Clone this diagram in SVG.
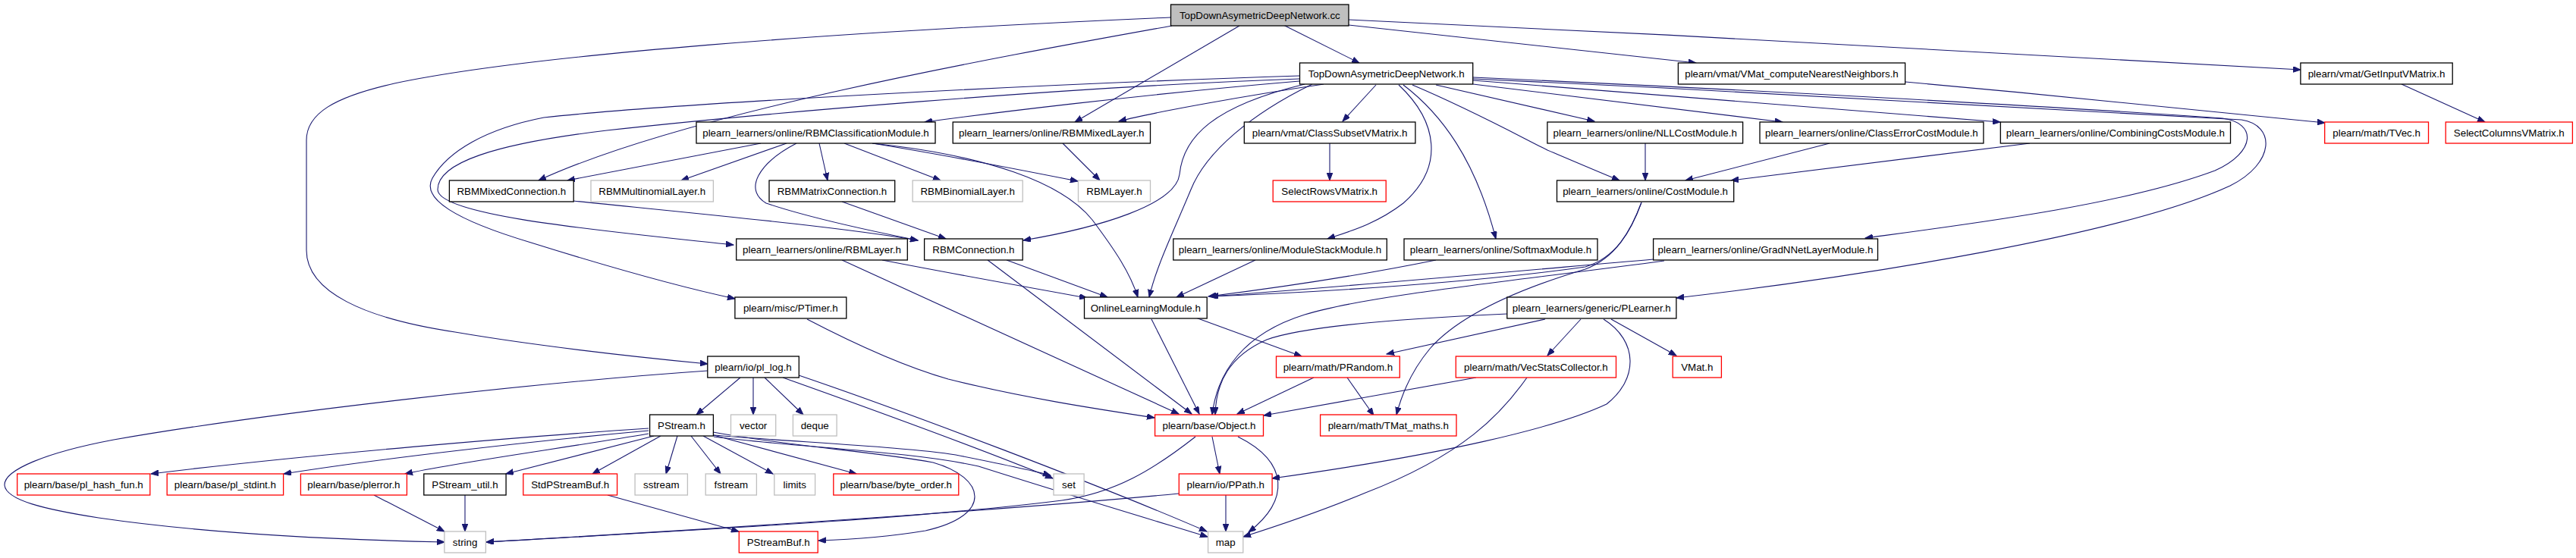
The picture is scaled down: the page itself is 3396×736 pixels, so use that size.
<svg xmlns="http://www.w3.org/2000/svg" width="3396" height="736" viewBox="0 0 3396 736">
<defs>
<marker id="ah" markerUnits="userSpaceOnUse" markerWidth="11" markerHeight="8" refX="10" refY="3.8" orient="auto">
<path d="M0,0 L10,3.8 L0,7.6 z" fill="#191970" stroke="#191970" stroke-width="1"/>
</marker>
</defs>
<style>
rect{stroke-width:1.3}
.b{fill:#ffffff;stroke:#000000}
.r{fill:#ffffff;stroke:#ff0000}
.g{fill:#ffffff;stroke:#bfbfbf}
.root{fill:#bfbfbf;stroke:#000000}
text{font-family:"Liberation Sans",Arial,Helvetica,sans-serif;font-size:13.33px;fill:#000000;text-anchor:middle}
#edges path{fill:none;stroke:#191970;stroke-width:1.1;marker-end:url(#ah)}
</style>
<rect x="0" y="0" width="3396" height="736" fill="#ffffff"/>
<g id="edges">
<path d="M1692,33 L1792,83"/>
<path d="M1778,33 L2236,83"/>
<path d="M1778,26 C2200,45 2700,72 3033,92"/>
<path d="M1634,34 L1417,161"/>
<path d="M1545,34 C1300,78 900,150 710,238"/>
<path d="M1543,23 C1100,42 700,72 520,110 C440,128 404,150 404,185 L404,330 C404,385 480,420 600,438 C700,455 830,470 933,480"/>
<path d="M1713,100 C1400,110 900,135 717,155 C640,170 590,200 570,235 C555,262 600,290 700,320 C780,345 880,375 969,394"/>
<path d="M1713,104 C1400,115 1000,150 800,172 C650,190 577,215 577,250 C577,285 800,305 967,323"/>
<path d="M1713,107 C1500,125 1300,150 1219,161"/>
<path d="M1745,111 C1650,125 1520,148 1475,160"/>
<path d="M1720,111 C1600,140 1560,180 1555,230 C1550,270 1450,300 1349,317"/>
<path d="M1730,111 C1650,150 1590,200 1570,250 C1545,310 1525,350 1515,392"/>
<path d="M1814,112 L1770,160"/>
<path d="M1893,112 L2102,160"/>
<path d="M1942,111 L2350,161"/>
<path d="M1942,106 L2637,161"/>
<path d="M1862,112 C1940,145 2000,178 2040,198 C2080,215 2115,230 2135,238"/>
<path d="M1844,112 C1895,160 1905,220 1850,268 C1815,295 1780,305 1750,315"/>
<path d="M1850,112 C1900,150 1945,210 1972,315"/>
<path d="M1942,102 C2300,118 2700,140 2930,156 C2975,162 2975,200 2920,225 C2800,270 2600,295 2459,314"/>
<path d="M1942,104 C2300,120 2700,143 2955,158 C3000,165 3000,215 2940,245 C2800,310 2450,365 2210,393"/>
<path d="M2512,108 C2700,125 2900,145 3065,162"/>
<path d="M1003,189 L748,238"/>
<path d="M1037,189 L898,238"/>
<path d="M1080,189 L1091,238"/>
<path d="M1113,189 L1240,238"/>
<path d="M1150,189 C1250,205 1350,225 1421,239"/>
<path d="M1050,189 C1000,215 980,250 1010,268 C1060,285 1150,305 1210,317"/>
<path d="M1150,189 C1300,205 1400,240 1440,290 C1470,330 1490,360 1500,392"/>
<path d="M1401,189 L1450,238"/>
<path d="M1753,189 L1753,238"/>
<path d="M2169,189 L2169,238"/>
<path d="M2412,189 L2222,238"/>
<path d="M2676,189 L2282,238"/>
<path d="M3166,111 L3276,161"/>
<path d="M756,265 C900,280 1100,298 1210,317"/>
<path d="M1110,266 L1247,315"/>
<path d="M1163,343 C1250,360 1350,378 1433,393"/>
<path d="M1110,343 L1554,546"/>
<path d="M1327,343 L1460,392"/>
<path d="M1302,343 L1571,546"/>
<path d="M1655,343 L1551,392"/>
<path d="M1893,343 C1800,362 1680,380 1593,391"/>
<path d="M2180,342 C1950,362 1750,380 1596,391"/>
<path d="M2164,267 C2150,305 2130,340 2090,352 C1950,372 1750,385 1596,391"/>
<path d="M2164,267 C2150,305 2130,340 2090,355 C1990,385 1920,420 1885,460 C1860,490 1848,520 1841,547"/>
<path d="M2194,344 C2000,370 1800,390 1720,415 C1640,440 1605,490 1598,547"/>
<path d="M1064,421 C1110,445 1180,480 1250,500 C1350,525 1450,540 1522,551"/>
<path d="M1518,421 L1581,546"/>
<path d="M1560,413 L1716,470"/>
<path d="M1987,414 C1850,420 1720,430 1670,448 C1620,470 1603,505 1602,547"/>
<path d="M2037,421 L1828,467"/>
<path d="M2084,421 L2040,469"/>
<path d="M2124,421 L2210,469"/>
<path d="M2114,421 C2160,450 2160,500 2118,533 C2050,565 1900,600 1677,631"/>
<path d="M976,498 L918,547"/>
<path d="M993,498 L993,547"/>
<path d="M1008,498 L1059,547"/>
<path d="M1032,498 C1150,540 1300,595 1388,631"/>
<path d="M1053,495 C1200,545 1450,640 1591,701"/>
<path d="M933,489 C700,505 350,545 150,580 C60,597 5,620 6,640 C8,660 60,672 130,683 C280,705 450,712 586,715"/>
<path d="M1946,498 L1666,548"/>
<path d="M2013,498 C1980,545 1930,600 1800,650 C1740,675 1680,695 1639,708"/>
<path d="M1732,498 L1631,546"/>
<path d="M1776,498 L1811,548"/>
<path d="M1598,576 L1608,625"/>
<path d="M1632,576 C1700,610 1700,660 1646,702"/>
<path d="M1576,576 C1520,620 1470,650 1400,660 C1200,685 900,700 641,715"/>
<path d="M1554,651 C1300,675 900,700 641,715"/>
<path d="M1616,653 L1616,701"/>
<path d="M855,565 C700,575 400,600 199,625"/>
<path d="M855,568 C700,582 500,605 374,625"/>
<path d="M855,572 C750,590 600,610 534,625"/>
<path d="M862,575 L667,625"/>
<path d="M871,575 L781,625"/>
<path d="M893,575 L878,625"/>
<path d="M911,575 L950,625"/>
<path d="M927,575 L1019,625"/>
<path d="M941,574 L1129,625"/>
<path d="M941,574 C1050,583 1200,590 1260,600 C1320,612 1360,620 1385,627"/>
<path d="M941,576 C1050,590 1200,595 1290,615 C1400,650 1500,680 1592,708"/>
<path d="M940,570 C1050,590 1150,595 1230,610 C1300,630 1310,680 1220,700 C1160,710 1110,712 1079,713"/>
<path d="M493,653 L586,701"/>
<path d="M613,653 L613,701"/>
<path d="M801,653 L974,701"/>
</g>
<g id="n0"><rect class="root" x="1543.5" y="6" width="234.5" height="28"/><text x="1660.8" y="25">TopDownAsymetricDeepNetwork.cc</text></g>
<g id="n1"><rect class="b" x="1713.5" y="83" width="228.2" height="28"/><text x="1827.6" y="102">TopDownAsymetricDeepNetwork.h</text></g>
<g id="n2"><rect class="b" x="2212.4" y="83" width="299.2" height="28"/><text x="2362" y="102">plearn/vmat/VMat_computeNearestNeighbors.h</text></g>
<g id="n3"><rect class="b" x="3032.9" y="83" width="200.3" height="28"/><text x="3133" y="102">plearn/vmat/GetInputVMatrix.h</text></g>
<g id="n4"><rect class="b" x="918" y="161" width="315" height="28"/><text x="1075.5" y="180">plearn_learners/online/RBMClassificationModule.h</text></g>
<g id="n5"><rect class="b" x="1256.2" y="161" width="260.3" height="28"/><text x="1386.3" y="180">plearn_learners/online/RBMMixedLayer.h</text></g>
<g id="n6"><rect class="b" x="1640.3" y="161" width="225.6" height="28"/><text x="1753.1" y="180">plearn/vmat/ClassSubsetVMatrix.h</text></g>
<g id="n7"><rect class="b" x="2039.9" y="161" width="257.7" height="28"/><text x="2168.7" y="180">plearn_learners/online/NLLCostModule.h</text></g>
<g id="n8"><rect class="b" x="2320" y="161" width="294.9" height="28"/><text x="2467.4" y="180">plearn_learners/online/ClassErrorCostModule.h</text></g>
<g id="n9"><rect class="b" x="2637.3" y="161" width="303.2" height="28"/><text x="2788.9" y="180">plearn_learners/online/CombiningCostsModule.h</text></g>
<g id="n10"><rect class="r" x="3064.7" y="161" width="136.8" height="28"/><text x="3133.1" y="180">plearn/math/TVec.h</text></g>
<g id="n11"><rect class="r" x="3224.2" y="161" width="167.2" height="28"/><text x="3307.8" y="180">SelectColumnsVMatrix.h</text></g>
<g id="n12"><rect class="b" x="592.4" y="238" width="163.8" height="28"/><text x="674.3" y="257">RBMMixedConnection.h</text></g>
<g id="n13"><rect class="g" x="779" y="238" width="161.4" height="28"/><text x="859.7" y="257">RBMMultinomialLayer.h</text></g>
<g id="n14"><rect class="b" x="1014" y="238" width="165.7" height="28"/><text x="1096.9" y="257">RBMMatrixConnection.h</text></g>
<g id="n15"><rect class="g" x="1203.1" y="238" width="145.1" height="28"/><text x="1275.7" y="257">RBMBinomialLayer.h</text></g>
<g id="n16"><rect class="g" x="1421.5" y="238" width="95" height="28"/><text x="1469" y="257">RBMLayer.h</text></g>
<g id="n17"><rect class="r" x="1678.2" y="238" width="149" height="28"/><text x="1752.7" y="257">SelectRowsVMatrix.h</text></g>
<g id="n18"><rect class="b" x="2052.5" y="238" width="233.2" height="28"/><text x="2169.1" y="257">plearn_learners/online/CostModule.h</text></g>
<g id="n19"><rect class="b" x="970.7" y="315" width="225.6" height="28"/><text x="1083.5" y="334">plearn_learners/online/RBMLayer.h</text></g>
<g id="n20"><rect class="b" x="1218.6" y="315" width="129.6" height="28"/><text x="1283.4" y="334">RBMConnection.h</text></g>
<g id="n21"><rect class="b" x="1546.8" y="315" width="281.5" height="28"/><text x="1687.5" y="334">plearn_learners/online/ModuleStackModule.h</text></g>
<g id="n22"><rect class="b" x="1851" y="315" width="255" height="28"/><text x="1978.5" y="334">plearn_learners/online/SoftmaxModule.h</text></g>
<g id="n23"><rect class="b" x="2179.6" y="315" width="295.9" height="28"/><text x="2327.5" y="334">plearn_learners/online/GradNNetLayerModule.h</text></g>
<g id="n24"><rect class="b" x="968.9" y="392" width="146.9" height="28"/><text x="1042.3" y="411">plearn/misc/PTimer.h</text></g>
<g id="n25"><rect class="b" x="1429.5" y="392" width="161.7" height="28"/><text x="1510.3" y="411">OnlineLearningModule.h</text></g>
<g id="n26"><rect class="b" x="1986.8" y="392" width="223.1" height="28"/><text x="2098.3" y="411">plearn_learners/generic/PLearner.h</text></g>
<g id="n27"><rect class="b" x="932.8" y="470" width="120.5" height="28"/><text x="993" y="489">plearn/io/pl_log.h</text></g>
<g id="n28"><rect class="r" x="1682.5" y="470" width="162.8" height="28"/><text x="1763.9" y="489">plearn/math/PRandom.h</text></g>
<g id="n29"><rect class="r" x="1919.3" y="470" width="211.2" height="28"/><text x="2024.9" y="489">plearn/math/VecStatsCollector.h</text></g>
<g id="n30"><rect class="r" x="2205.2" y="470" width="64.2" height="28"/><text x="2237.3" y="489">VMat.h</text></g>
<g id="n31"><rect class="b" x="856.6" y="547" width="83.8" height="28"/><text x="898.5" y="566">PStream.h</text></g>
<g id="n32"><rect class="g" x="963.5" y="547" width="59.2" height="28"/><text x="993.1" y="566">vector</text></g>
<g id="n33"><rect class="g" x="1045.4" y="547" width="57.7" height="28"/><text x="1074.2" y="566">deque</text></g>
<g id="n34"><rect class="r" x="1522.6" y="547" width="142.9" height="28"/><text x="1594" y="566">plearn/base/Object.h</text></g>
<g id="n35"><rect class="r" x="1740.6" y="547" width="179.4" height="28"/><text x="1830.3" y="566">plearn/math/TMat_maths.h</text></g>
<g id="n36"><rect class="r" x="22.7" y="625" width="175.1" height="28"/><text x="110.2" y="644">plearn/base/pl_hash_fun.h</text></g>
<g id="n37"><rect class="r" x="220.2" y="625" width="153.4" height="28"/><text x="296.9" y="644">plearn/base/pl_stdint.h</text></g>
<g id="n38"><rect class="r" x="396.4" y="625" width="140" height="28"/><text x="466.4" y="644">plearn/base/plerror.h</text></g>
<g id="n39"><rect class="b" x="558.8" y="625" width="108.3" height="28"/><text x="613" y="644">PStream_util.h</text></g>
<g id="n40"><rect class="r" x="689.8" y="625" width="123.8" height="28"/><text x="751.7" y="644">StdPStreamBuf.h</text></g>
<g id="n41"><rect class="g" x="837.1" y="625" width="69.3" height="28"/><text x="871.8" y="644">sstream</text></g>
<g id="n42"><rect class="g" x="930.2" y="625" width="67.2" height="28"/><text x="963.8" y="644">fstream</text></g>
<g id="n43"><rect class="g" x="1020.8" y="625" width="53.8" height="28"/><text x="1047.7" y="644">limits</text></g>
<g id="n44"><rect class="r" x="1098.8" y="625" width="165" height="28"/><text x="1181.3" y="644">plearn/base/byte_order.h</text></g>
<g id="n45"><rect class="g" x="1389" y="625" width="40.1" height="28"/><text x="1409" y="644">set</text></g>
<g id="n46"><rect class="r" x="1554.3" y="625" width="122.8" height="28"/><text x="1615.7" y="644">plearn/io/PPath.h</text></g>
<g id="n47"><rect class="g" x="585.9" y="701" width="54.5" height="28"/><text x="613.1" y="720">string</text></g>
<g id="n48"><rect class="r" x="974.3" y="701" width="103.9" height="28"/><text x="1026.2" y="720">PStreamBuf.h</text></g>
<g id="n49"><rect class="g" x="1592.6" y="701" width="46.2" height="28"/><text x="1615.7" y="720">map</text></g>
</svg>
